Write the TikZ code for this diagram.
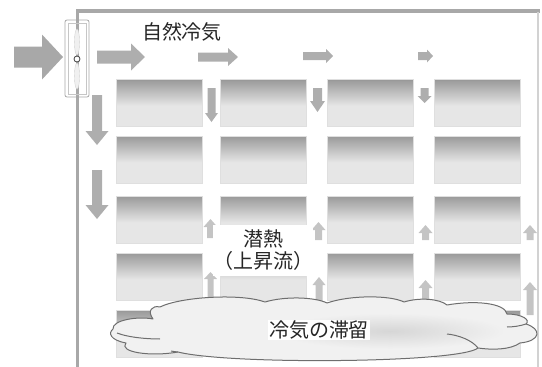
\documentclass[tikz,border=0pt]{standalone}
\usepackage{fontspec}
\newfontfamily\jp{Noto Sans CJK JP}
\definecolor{frameC}{HTML}{A8A8A8}
\definecolor{blkL}{HTML}{E6E6E6}
\definecolor{blkD}{HTML}{9C9C9C}
\definecolor{blkE}{HTML}{959595}
\definecolor{arrC}{HTML}{AEAEAE}
\definecolor{upC}{HTML}{C4C4C4}
\definecolor{cloudC}{HTML}{F1F1F1}
\definecolor{cloudD}{HTML}{D6D6D6}
\definecolor{cloudE}{HTML}{6E6E6E}
\pgfdeclareverticalshading{blkshade}{100bp}{color(0bp)=(blkL); color(47bp)=(blkL); color(74bp)=(blkD); color(75bp)=(blkE); color(100bp)=(blkE)}
\tikzset{
  pics/barr/.style n args={4}{code={%
    \fill (0,-#2) -- ({#1-#4},-#2) -- ({#1-#4},-#3) -- (#1,0) -- ({#1-#4},#3) -- ({#1-#4},#2) -- (0,#2) -- cycle;}},
  blk/.style={shading=blkshade, draw=gray!25, line width=0.4pt, inner sep=0pt, minimum width=86pt, minimum height=47pt},
  jptext/.style={font=\jp\fontsize{20}{22}\selectfont, text=black!85},
}
\begin{document}
\begin{tikzpicture}[x=1pt,y=-1pt]
\useasboundingbox (0,0) rectangle (542,367);
% frame
\draw[frameC, line width=3.5pt] (77.5,367) -- (77.5,11) -- (540,11);
\draw[gray!35, line width=1.5pt] (538,12) -- (538,367);
% fan / damper
\draw[gray!70, rounded corners=2pt, line width=0.8pt] (65,20) rectangle (89,97);
\draw[gray!45, line width=0.6pt] (68,23) rectangle (86,94);
\draw[gray!35, fill=gray!12, line width=0.4pt] (77,42) ellipse (2.6 and 13);
\draw[gray!35, fill=gray!12, line width=0.4pt] (77,76) ellipse (2.6 and 13);
\draw[black!75, line width=0.8pt, fill=white] (77,59) circle (3);
% blocks
\foreach \cx [count=\c] in {159,263,370.5,477.5}{
  \foreach \ry [count=\r] in {103,159.5,219.5,276.5,334}{
    \node[blk] (b\r-\c) at (\cx,\ry) {};
  }
}
% horizontal arrows
\pic[fill=frameC] at (14,57) {barr={49}{10.5}{22.5}{21}};
\pic[fill=arrC] at (97,57) {barr={48}{6.5}{13.5}{14}};
\pic[fill=arrC] at (198,57) {barr={40}{4.5}{9}{10}};
\pic[fill=arrC] at (303,56) {barr={30}{4}{7}{7}};
\pic[fill=arrC] at (418,56) {barr={15}{4}{6.5}{6}};
% down arrows
\pic[fill=arrC, rotate=-90] at (97,95) {barr={50}{5}{11.5}{14}};
\pic[fill=arrC, rotate=-90] at (97,170) {barr={49}{5}{11.5}{14}};
\pic[fill=arrC, rotate=-90] at (211.5,88) {barr={34}{4}{6.5}{9}};
\pic[fill=arrC, rotate=-90] at (317.5,88) {barr={24}{4.5}{7.5}{11}};
\pic[fill=arrC, rotate=-90] at (424.5,88) {barr={15}{4}{7}{7}};
% short up arrows
\pic[fill=upC, rotate=90] at (210.5,238) {barr={19}{3.5}{7}{8}};
\pic[fill=upC, rotate=90] at (318.5,240) {barr={18}{3.5}{7}{8}};
\pic[fill=upC, rotate=90] at (425.5,240) {barr={15}{3.5}{7}{8}};
\pic[fill=upC, rotate=90] at (530,240) {barr={15}{3.5}{7}{8}};
% long up arrows
\pic[fill=upC, rotate=90] at (210.5,310) {barr={38}{3}{6.5}{7}};
\pic[fill=upC, rotate=90] at (319,315) {barr={38}{3.5}{6.5}{8}};
\pic[fill=upC, rotate=90] at (425.5,315) {barr={35}{3.5}{7}{8}};
\pic[fill=upC, rotate=90] at (530,315) {barr={33}{3.5}{7}{8}};
% latent heat label
\node[jptext, fill=white, inner sep=0pt, minimum width=86pt, minimum height=51pt, align=center] (latent) at (263,250.5) {潜熱\\（上昇流）};
% cloud
\def\cloudpath{(113,329)
  .. controls (112,320) and (138,316) .. (153,319)
  .. controls (147,311) and (152,305) .. (160,307)
  .. controls (180,297) and (240,293) .. (265,302)
  .. controls (285,296) and (315,297) .. (327,303)
  .. controls (350,295) and (390,295) .. (404,302)
  .. controls (420,297) and (440,299) .. (447,305)
  .. controls (475,300) and (505,303) .. (507,314)
  .. controls (522,314) and (531,320) .. (526,324)
  .. controls (542,329) and (541,341) .. (520,343)
  .. controls (510,350) and (492,350) .. (478,348)
  .. controls (460,363) and (230,365) .. (178,352)
  .. controls (150,357) and (118,352) .. (126,343)
  .. controls (110,340) and (108,333) .. (113,329) -- cycle}
\fill[cloudC] \cloudpath;
\begin{scope}
  \clip \cloudpath;
  \shade[inner color=cloudD, outer color=cloudC] (390,331) ellipse (115 and 18);
\end{scope}
\draw[cloudE, line width=1pt, line join=round] \cloudpath;
\draw[cloudE, line width=1pt] (117,333) .. controls (130,338) and (150,339) .. (160,339);
\draw[cloudE, line width=1pt] (171,351) .. controls (174,351.5) and (176,352) .. (178,352);
\draw[cloudE, line width=1pt] (526,324) .. controls (520,326) and (513,327) .. (507,327);
\draw[cloudE, line width=1pt] (478,348) .. controls (472,340) and (458,335) .. (447,334);
\node[jptext, fill=white, inner sep=1pt] (cold) at (319,330) {冷気の滞留};
% title
\node[jptext] (title) at (182,32) {自然冷気};
\end{tikzpicture}
\end{document}
